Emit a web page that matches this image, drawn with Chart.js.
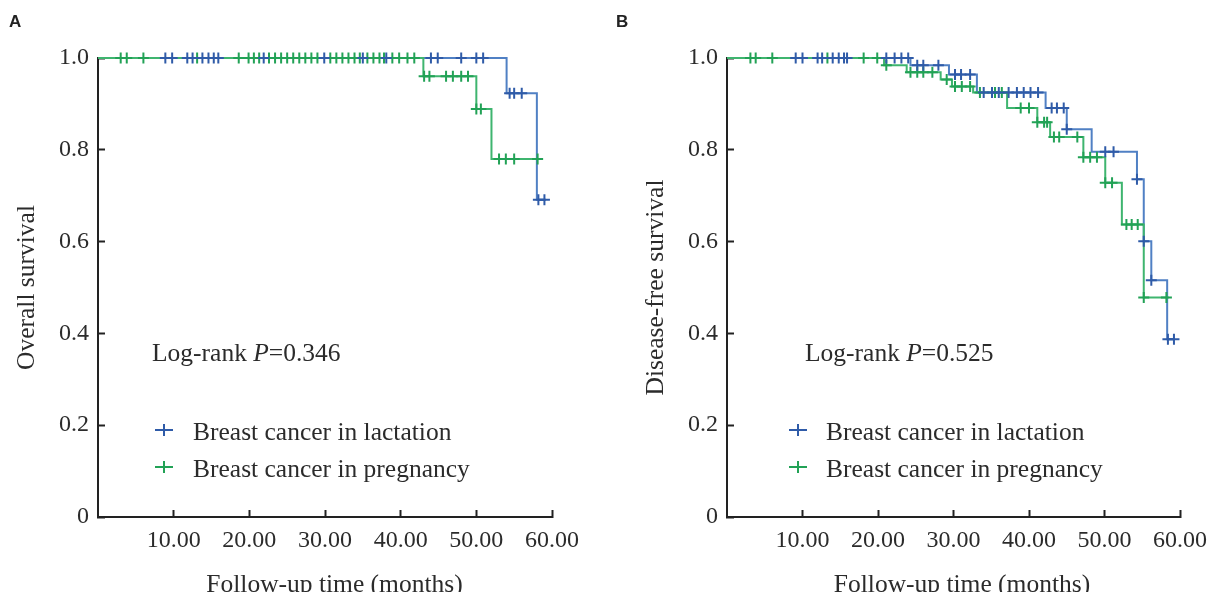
<!DOCTYPE html>
<html>
<head>
<meta charset="utf-8">
<script src="https://cdn.jsdelivr.net/npm/chart.js@4.4.1/dist/chart.umd.min.js"></script>
<style>
body { margin: 0; background: #fff; }
#wrap { position: relative; width: 1213px; height: 592px; overflow: hidden; font-family: 'Liberation Serif', 'Times New Roman', serif; color: #2b2b2b; }
canvas { position: absolute; top: 0; }
.note, .leg, .xtitle { position: absolute; font-size: 25.5px; line-height: 24px; white-space: nowrap; }
.xtitle { width: 400px; text-align: center; }
.panel { position: absolute; font-family: 'Liberation Sans', Arial, sans-serif; font-weight: bold; font-size: 17px; line-height: 17px; color: #222; }
.mark { position: absolute; width: 18px; height: 12px; }
.mark:before { content: ''; position: absolute; left: 0; top: 5px; width: 18px; height: 2px; background: currentColor; }
.mark:after { content: ''; position: absolute; left: 8px; top: 0; width: 2px; height: 12px; background: currentColor; }
</style>
</head>
<body>
<div id="wrap">
  <canvas id="chartA" width="629" height="592" style="left:0;width:629px;height:592px"></canvas>
  <canvas id="chartB" width="620" height="592" style="left:629px;width:620px;height:592px"></canvas>

  <div class="panel" style="left:9px;top:13px">A</div>
  <div class="panel" style="left:616px;top:13px">B</div>

  <div class="note" style="left:152px;top:341px">Log-rank <i>P</i>=0.346</div>
  <div class="note" style="left:805px;top:341px">Log-rank <i>P</i>=0.525</div>

  <div class="mark" style="left:155px;top:424px;color:#2f5ba8"></div>
  <div class="leg" style="left:193px;top:420px">Breast cancer in lactation</div>
  <div class="mark" style="left:155px;top:460.5px;color:#22a256"></div>
  <div class="leg" style="left:193px;top:457px">Breast cancer in pregnancy</div>

  <div class="mark" style="left:789px;top:424px;color:#2f5ba8"></div>
  <div class="leg" style="left:826px;top:420px">Breast cancer in lactation</div>
  <div class="mark" style="left:789px;top:460.5px;color:#22a256"></div>
  <div class="leg" style="left:826px;top:457px">Breast cancer in pregnancy</div>

  <div class="xtitle" style="left:134.5px;top:572px">Follow-up time (months)</div>
  <div class="xtitle" style="left:762px;top:572px">Follow-up time (months)</div>
</div>

<script>
var xTickValues = [10, 20, 30, 40, 50, 60];
var xTickLabels = ['10.00', '20.00', '30.00', '40.00', '50.00', '60.00'];
var yTickValues = [0, 0.2, 0.4, 0.6, 0.8, 1.0];
var yTickLabels = ['0', '0.2', '0.4', '0.6', '0.8', '1.0'];
var seriesNames = ['Breast cancer in lactation', 'Breast cancer in pregnancy'];

// A - overall survival (step times / survival after the step)
var osLactTimes = [0, 54.0, 58.0, 59.2];
var osLactSurv = [1.0, 0.923, 0.691, 0.691];
var osLactCensored = [8.9, 9.8, 11.8, 12.5, 13.8, 14.6, 15.3, 15.9, 21.9, 29.9, 35.0, 38.1,
	44.0, 44.9, 48.0, 50.0, 50.9, 54.4, 55.0, 56.0, 58.2, 59.0];

var osPregTimes = [0, 43.0, 50.0, 52.0, 58.1];
var osPregSurv = [1.0, 0.96, 0.889, 0.780, 0.780];
var osPregCensored = [3.0, 3.8, 6.0, 13.1, 18.6, 19.9, 20.6, 21.3, 22.6, 23.4, 24.2, 25.0,
	25.8, 26.6, 27.4, 28.2, 29.0, 30.7, 31.5, 32.3, 33.1, 33.9, 34.6, 35.6, 36.4, 37.2,
	37.8, 38.9, 39.8, 40.9, 41.8, 43.1, 43.8, 46.0, 46.9, 48.0, 48.9, 50.0, 50.6,
	53.0, 53.9, 55.0, 58.1];

// B - disease-free survival
var dfsLactTimes = [0, 24.3, 29.4, 33.1, 42.2, 45.0, 48.3, 54.3, 55.2, 56.2, 58.3, 59.3];
var dfsLactSurv = [1.0, 0.984, 0.964, 0.925, 0.891, 0.845, 0.796, 0.736, 0.601, 0.516, 0.387, 0.387];
var dfsLactCensored = [9.1, 10.0, 12.0, 12.6, 14.0, 14.8, 15.5, 15.9, 21.1, 22.2, 23.1, 24.0,
	25.2, 26.0, 28.0, 30.2, 31.0, 32.2, 34.0, 35.1, 36.0, 37.3, 38.4, 39.3, 40.2, 41.2,
	43.0, 43.7, 44.6, 45.0, 50.1, 51.2, 54.3, 55.2, 56.2, 58.4, 59.2];

var dfsPregTimes = [0, 20.8, 23.8, 28.3, 29.8, 32.6, 37.1, 41.1, 42.8, 47.2, 50.1, 52.3, 55.2, 58.5];
var dfsPregSurv = [1.0, 0.984, 0.969, 0.953, 0.938, 0.925, 0.891, 0.860, 0.828, 0.784, 0.728, 0.637, 0.478, 0.478];
var dfsPregCensored = [3.1, 3.8, 6.0, 13.3, 18.1, 19.9, 21.1, 24.3, 25.2, 26.0, 27.2, 29.1,
	30.2, 31.1, 32.2, 33.5, 35.5, 36.4, 38.9, 40.0, 41.1, 42.0, 42.4, 43.3, 44.0, 46.4,
	47.2, 48.1, 49.0, 50.1, 51.0, 52.9, 53.6, 54.4, 55.2, 58.2];

var blueLine = '#5080c4', blueMark = '#2f5ba8',
	greenLine = '#3fb56f', greenMark = '#22a256',
	axisColor = '#222', textColor = '#2b2b2b';

function survAt(times, surv, t) {
	var s = surv[0];
	for (var i = 0; i < times.length; i++) {
		if (times[i] <= t) s = surv[i];
	}
	return s;
}

function stepPoints(times, surv) {
	return times.map(function(t, i) { return { x: t, y: surv[i] }; });
}

function censorPoints(times, surv, cens) {
	return cens.map(function(t) { return { x: t, y: survAt(times, surv, t) }; });
}

function makeChart(id, rightPad, yTitle, lact, preg) {
	var family = "'Liberation Serif', 'Times New Roman', serif";
	var tickFont = { family: family, size: 24 },
		titleFont = { family: family, size: 25.5 };
	var ctx = document.getElementById(id).getContext('2d');

	return new Chart(ctx, {
		type: 'scatter',
		data: {
			datasets: [{
				label: seriesNames[0] + ' censored',
				data: censorPoints(lact.times, lact.surv, lact.cens),
				pointStyle: 'cross', pointRadius: 5.5, pointBorderWidth: 2,
				pointBorderColor: blueMark, showLine: false, clip: false
			}, {
				label: seriesNames[1] + ' censored',
				data: censorPoints(preg.times, preg.surv, preg.cens),
				pointStyle: 'cross', pointRadius: 5.5, pointBorderWidth: 2,
				pointBorderColor: greenMark, showLine: false, clip: false
			}, {
				label: seriesNames[1],
				data: stepPoints(preg.times, preg.surv),
				showLine: true, stepped: true, borderColor: greenLine, borderWidth: 2,
				pointRadius: 0, clip: false
			}, {
				label: seriesNames[0],
				data: stepPoints(lact.times, lact.surv),
				showLine: true, stepped: true, borderColor: blueLine, borderWidth: 2,
				pointRadius: 0, clip: false
			}]
		},
		options: {
			responsive: false,
			animation: false,
			events: [],
			layout: { padding: { left: 0, top: 58, right: rightPad, bottom: 0 } },
			plugins: { legend: { display: false }, tooltip: { enabled: false } },
			scales: {
				x: {
					type: 'linear', min: 0, max: 60,
					afterBuildTicks: function(scale) {
						scale.ticks = xTickValues.map(function(v) { return { value: v }; });
					},
					afterFit: function(scale) { scale.height = 75; },
					ticks: {
						font: tickFont, color: textColor, padding: 16, maxRotation: 0,
						callback: function(v, i) { return xTickLabels[i]; }
					},
					grid: { drawOnChartArea: false, tickLength: -7, tickWidth: 2, tickColor: axisColor },
					border: { display: true, color: axisColor, width: 2 }
				},
				y: {
					type: 'linear', min: 0, max: 1,
					afterBuildTicks: function(scale) {
						scale.ticks = yTickValues.map(function(v) { return { value: v }; });
					},
					afterFit: function(scale) { scale.width = 98; },
					ticks: {
						font: tickFont, color: textColor, padding: 16,
						callback: function(v, i) { return yTickLabels[i]; }
					},
					grid: { drawOnChartArea: false, tickLength: -7, tickWidth: 2, tickColor: axisColor },
					border: { display: true, color: axisColor, width: 2 },
					title: {
						display: true, text: yTitle, color: textColor,
						font: titleFont, padding: { top: 11.7, bottom: 0 }
					}
				}
			}
		}
	});
}

makeChart('chartA', 77, 'Overall survival',
	{ times: osLactTimes, surv: osLactSurv, cens: osLactCensored },
	{ times: osPregTimes, surv: osPregSurv, cens: osPregCensored });

makeChart('chartB', 69, 'Disease-free survival',
	{ times: dfsLactTimes, surv: dfsLactSurv, cens: dfsLactCensored },
	{ times: dfsPregTimes, surv: dfsPregSurv, cens: dfsPregCensored });
</script>
</body>
</html>
